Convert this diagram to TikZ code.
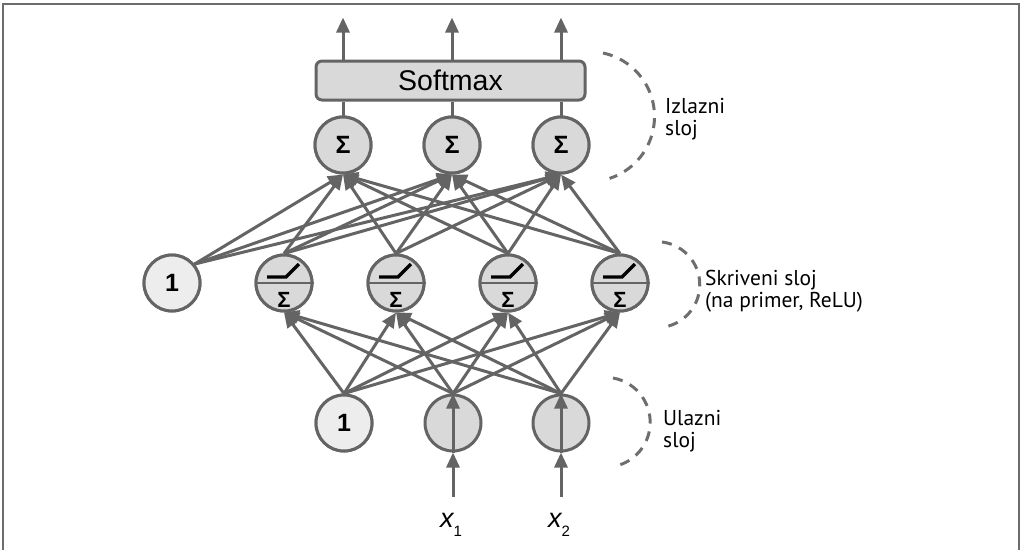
\documentclass[tikz,border=0pt]{standalone}
\usepackage{fontspec}
\setmainfont{Liberation Sans}
\newfontfamily\lblfont{PT Sans}
\usetikzlibrary{arrows.meta}
\definecolor{linegray}{HTML}{646464}
\definecolor{nfill}{HTML}{D9D9D9}
\definecolor{bfill}{HTML}{EDEDED}
\definecolor{dashgray}{HTML}{6E6E6E}
\begin{document}
\begin{tikzpicture}[x=1pt,y=-1pt,
  conn/.style={draw=linegray, line width=3pt},
  arr/.style={conn, -{Triangle[length=15pt,width=13pt]}},
  neuron/.style={circle, draw=linegray, line width=3pt, fill=nfill, minimum size=56pt, inner sep=0pt, font=\fontsize{25}{25}\selectfont\bfseries},
  bias/.style={neuron, fill=bfill},
  relu/.style={draw=black, line width=3.4pt},
  divider/.style={draw=linegray, line width=2.2pt},
  grp/.style={draw=dashgray, line width=3pt, dash pattern=on 10pt off 8pt},
  lbl/.style={anchor=base west, inner sep=0pt, font=\lblfont\fontsize{21.5}{22}\selectfont},
  smbox/.style={draw=linegray, line width=3pt, fill=nfill, rounded corners=6pt, minimum width=269pt, minimum height=39pt, inner sep=0pt, font=\fontsize{28.5}{30}\selectfont}
]
\useasboundingbox (0,0) rectangle (1020,550);
\draw[draw=gray!85!black, line width=2pt] (3,550) -- (3,4) -- (1019,4) -- (1019,550);

% input layer
\node[bias] (i0) at (344,423) {1};
\node[neuron] (i1) at (453,423) {};
\node[neuron] (i2) at (561,423) {};
% hidden layer
\node[bias] (hb) at (172,283) {1};
\foreach \n/\x in {1/284,2/396,3/508,4/620}{
  \node[neuron] (h\n) at (\x,283) {};
}
% output layer
\node[neuron] (o1) at (343,145) {Σ};
\node[neuron] (o2) at (452,145) {Σ};
\node[neuron] (o3) at (561,145) {Σ};
\node[smbox] (sm) at (450.5,80.5) {Softmax};

% input arrows
\coordinate (xin1) at (453,497);
\coordinate (xin2) at (561,497);
\draw[arr] (xin1) -- (i1.south);
\draw[arr] (i1.south) -- (i1.north);
\draw[arr] (xin2) -- (i2.south);
\draw[arr] (i2.south) -- (i2.north);
\node[anchor=base] (lx1) at (451,527) {{\fontsize{27}{27}\selectfont\itshape x}{\fontsize{15}{15}\selectfont\raisebox{-9pt}{1}}};
\node[anchor=base] (lx2) at (559,527) {{\fontsize{27}{27}\selectfont\itshape x}{\fontsize{15}{15}\selectfont\raisebox{-9pt}{2}}};

% input -> hidden
\foreach \i in {0,1,2}{
  \foreach \h in {1,2,3,4}{
    \draw[arr] (i\i.north) -- (h\h.south);
  }
}
% hidden -> output
\foreach \h in {1,2,3,4}{
  \foreach \o in {1,2,3}{
    \draw[arr] (h\h.north) -- (o\o.south);
  }
}
\foreach \o in {1,2,3}{
  \draw[arr] (hb.40) -- (o\o.south);
}
% redraw hidden neurons on top
\foreach \n in {1,2,3,4}{
  \node[neuron] at (h\n) {};
  \draw[divider] (h\n.west) -- (h\n.east);
  \draw[relu] ([shift={(-17,-6)}]h\n.center) -- ++(19,0) -- ++(13,-13);
  \node[anchor=base, inner sep=0pt, font=\fontsize{22}{22}\selectfont\bfseries] at ([shift={(0,24)}]h\n.center) {Σ};
}
\node[bias] at (hb) {1};
\node[neuron] at (o1) {Σ};
\node[neuron] at (o2) {Σ};
\node[neuron] at (o3) {Σ};
\node[bias] at (i0) {1};

% output -> softmax
\foreach \o in {1,2,3}{
  \draw[conn] (o\o.north) -- (o\o.north |- sm.south);
  \coordinate (t\o) at ([yshift=42pt]o\o.north |- sm.north);
  \draw[arr] (o\o.north |- sm.north) -- (t\o);
}

% group arcs and labels
\draw[grp] (603,53) arc[start angle=-78, end angle=72, radius=65];
\node[lbl] (lo1) at (665,113) {Izlazni};
\node[lbl] (lo2) at (665,135) {sloj};
\draw[grp] (662,242) arc[start angle=-83, end angle=83, radius=43];
\node[lbl] (lh1) at (705,285) {Skriveni sloj};
\node[lbl] (lh2) at (705,307) {(na primer, ReLU)};
\draw[grp] (613,378) arc[start angle=-80, end angle=80, radius=45];
\node[lbl] (li1) at (663,425) {Ulazni};
\node[lbl] (li2) at (663,447) {sloj};
\end{tikzpicture}
\end{document}
